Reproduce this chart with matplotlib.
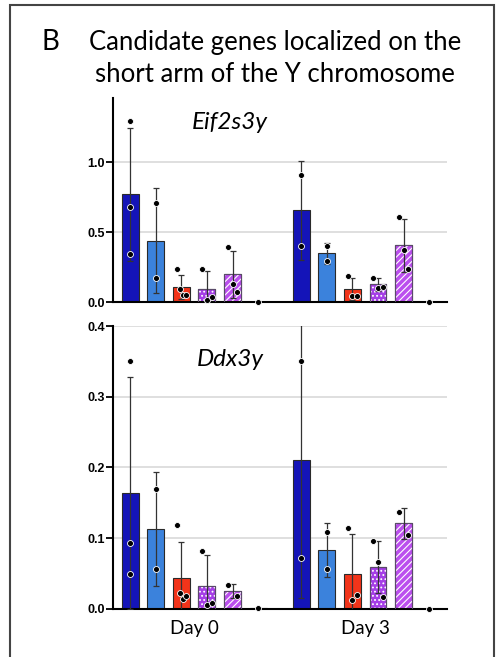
import numpy as np
import matplotlib
matplotlib.use('Agg')
import matplotlib.pyplot as plt
from matplotlib.patches import Rectangle

# datos
genes = ['Eif2s3y', 'Ddx3y']
dias = ['Day 0', 'Day 3']

# Eif2s3y
eif_media = [[0.770, 0.438, 0.108, 0.095, 0.198, 0.0],
             [0.656, 0.348, 0.092, 0.126, 0.404, 0.0]]
eif_sd = [[0.475, 0.375, 0.087, 0.125, 0.169, 0.0],
          [0.354, 0.076, 0.080, 0.045, 0.190, 0.0]]
eif_puntos = [[[1.29, 0.676, 0.343], [0.707, 0.169], [0.238, 0.09, 0.052, 0.05],
               [0.238, 0.014, 0.033], [0.393, 0.129, 0.071], [0.0]],
              [[0.91, 0.402], [0.402, 0.295], [0.186, 0.045, 0.045],
               [0.174, 0.098, 0.107], [0.607, 0.371, 0.233], [0.0]]]

# Ddx3y
ddx_media = [[0.164, 0.113, 0.0435, 0.032, 0.026, 0.001],
             [0.211, 0.083, 0.049, 0.059, 0.121, 0.0]]
ddx_sd = [[0.164, 0.080, 0.051, 0.044, 0.010, 0.0],
          [0.196, 0.038, 0.057, 0.037, 0.022, 0.0]]
ddx_puntos = [[[0.351, 0.093, 0.049], [0.169, 0.057], [0.118, 0.023, 0.014, 0.019],
               [0.082, 0.006, 0.008], [0.034, 0.019], [0.001]],
              [[0.35, 0.072], [0.109, 0.056], [0.1145, 0.013, 0.02],
               [0.0957, 0.066, 0.0165], [0.137, 0.104], [0.0]]]

colores = ['#1414b8', '#3b82dc', '#f2341a', '#a53ee6', '#bb4fee', 'white']
tramas = [None, None, None, '....', '/////', None]

plt.rcParams['hatch.linewidth'] = 0.8
fig = plt.figure(figsize=(4.98, 6.57), dpi=100)

# marco
fig.patches.append(Rectangle((0.02, -0.05), 0.972, 1.0424, transform=fig.transFigure,
                             fill=False, edgecolor='#444444', lw=1.5))
fig.text(0.083, 0.936, 'B', fontsize=20, family='Lato', ha='left', va='center')
fig.text(0.553, 0.936, 'Candidate genes localized on the', fontsize=18.5,
         family='Lato', ha='center', va='center')
fig.text(0.553, 0.886, 'short arm of the Y chromosome', fontsize=18.5,
         family='Lato', ha='center', va='center')

ax1 = fig.add_axes([0.227, 0.5403, 0.671, 0.3105])
ax2 = fig.add_axes([0.227, 0.0731, 0.671, 0.4307])

paso = 6.68
ancho = 0.66


def panel(ax, media, sd, puntos, nombre, ymax, ticks, xy_nombre):
    for g in range(2):
        for i in range(6):
            x = g * paso + i
            ax.bar(x, media[g][i], width=ancho, color=colores[i],
                   edgecolor='#2a2a2a', lw=0.8, zorder=2)
            if tramas[i]:
                ax.bar(x, media[g][i], width=ancho, color='none', edgecolor='white',
                       hatch=tramas[i], lw=0, zorder=2.5)
                ax.bar(x, media[g][i], width=ancho, color='none',
                       edgecolor='#5a4a6a', lw=0.8, zorder=2.6)
            if sd[g][i] > 0:
                ax.errorbar(x, media[g][i], yerr=sd[g][i], color='#333333',
                            lw=0.9, capsize=2, capthick=0.9, zorder=3)
            p = puntos[g][i]
            if i in (2, 3, 4) and len(p) > 1:
                dx = np.linspace(-0.18, 0.18, len(p))
            else:
                dx = np.zeros(len(p))
            ax.plot(x + dx, p, 'o', color='black', ms=4.3, mec='white', mew=0.6,
                    zorder=4, clip_on=False)
    ax.set_xlim(-0.664, 12.38)
    ax.set_ylim(0, ymax)
    ax.set_yticks(ticks)
    ax.set_yticklabels(['%.1f' % t for t in ticks], fontsize=9,
                       fontweight='bold', family='Liberation Sans')
    ax.yaxis.grid(True, color='#d6d6d6', lw=1.1, zorder=0)
    ax.set_axisbelow(True)
    for s in ['top', 'right']:
        ax.spines[s].set_visible(False)
    ax.spines['left'].set_linewidth(1.5)
    ax.spines['bottom'].set_linewidth(1.5)
    ax.tick_params(axis='y', length=5, width=1.3, pad=1)
    ax.text(xy_nombre[0], xy_nombre[1], nombre, transform=ax.transAxes,
            fontsize=17.5, style='italic', family='Lato', ha='center', va='center')


panel(ax1, eif_media, eif_sd, eif_puntos, genes[0], 1.457, [0.0, 0.5, 1.0], (0.35, 0.88))
panel(ax2, ddx_media, ddx_sd, ddx_puntos, genes[1], 0.4, [0.0, 0.1, 0.2, 0.3, 0.4], (0.35, 0.88))

ax1.set_xticks([])
ax2.set_xticks([2.5, paso + 2.5])
ax2.set_xticklabels(dias, fontsize=13.5, family='Lato')
ax2.tick_params(axis='x', length=0, pad=8)

fig.savefig('out.png', dpi=100)
